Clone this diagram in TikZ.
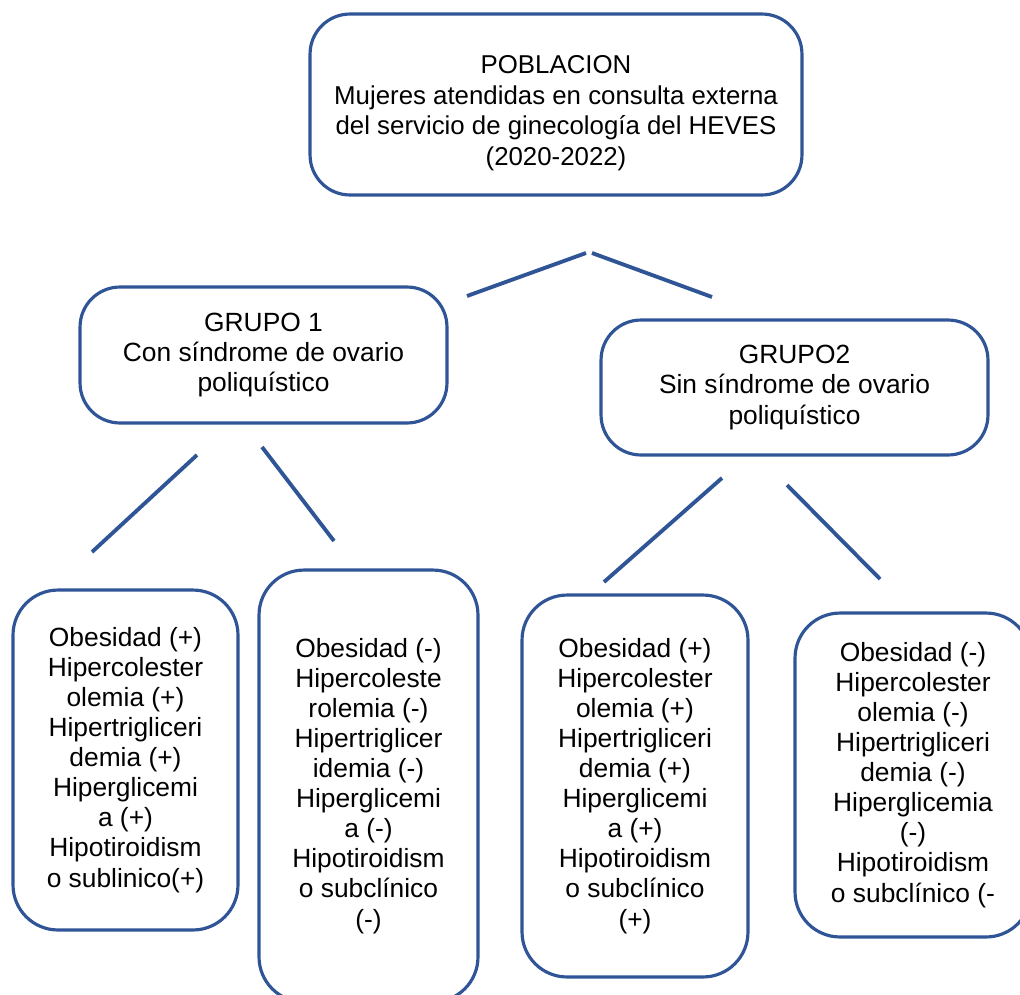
\documentclass[tikz,border=0pt]{standalone}
\usepackage{fontspec}
\setmainfont{Liberation Sans}
\usepackage{tikz}
\definecolor{borde}{RGB}{47,85,151}
\tikzset{
	caja/.style={draw=borde, line width=1.8pt, rounded corners=0.8cm, align=center, inner sep=0pt,
		font=\fontsize{15}{17.1}\selectfont},
	linea/.style={draw=borde, line width=2.2pt}
}

\begin{document}
\begin{tikzpicture}[x=0.02cm,y=-0.02cm]
			\clip (0,0) rectangle (1020,994);
			\node[caja, minimum width=9.84cm, minimum height=3.62cm] (poblacion) at (556,104.5) {};
			\node[align=center, inner sep=0pt, font=\fontsize{14.7}{17.4}\selectfont] (poblaciontxt) at (556,113) {POBLACION\\Mujeres atendidas en consulta externa\\del servicio de ginecología del HEVES\\(2020-2022)};
			\node[caja, minimum width=7.34cm, minimum height=2.72cm] (grupo1) at (263.5,355) {GRUPO 1\\Con síndrome de ovario\\poliquístico};
			\node[caja, minimum width=7.74cm, minimum height=2.70cm] (grupo2) at (794.5,387.5) {GRUPO2\\Sin síndrome de ovario\\poliquístico};
			\node[caja, rounded corners=0.9cm, minimum width=4.5cm, minimum height=6.8cm] (g1pos) at (125.5,760) {Obesidad (+)\\Hipercolester\\olemia (+)\\Hipertrigliceri\\demia (+)\\Hiperglicemi\\a (+)\\Hipotiroidism\\o sublinico(+)};
			\node[caja, rounded corners=0.9cm, minimum width=4.38cm, minimum height=8.64cm] (g1neg) at (368.5,786) {Obesidad (-)\\Hipercoleste\\rolemia (-)\\Hipertriglicer\\idemia (-)\\Hiperglicemi\\a (-)\\Hipotiroidism\\o subclínico\\(-)};
			\node[caja, rounded corners=0.9cm, minimum width=4.52cm, minimum height=7.64cm] (g2pos) at (635,786) {Obesidad (+)\\Hipercolester\\olemia (+)\\Hipertrigliceri\\demia (+)\\Hiperglicemi\\a (+)\\Hipotiroidism\\o subclínico\\(+)};
			\node[caja, rounded corners=0.9cm, minimum width=4.72cm, minimum height=6.48cm] (g2neg) at (913,775) {Obesidad (-)\\Hipercolester\\olemia (-)\\Hipertrigliceri\\demia (-)\\Hiperglicemia\\(-)\\Hipotiroidism\\o subclínico (-};
			% ramas
			\coordinate (r1) at (467,296);
			\coordinate (r2) at (586,253);
			\coordinate (r3) at (592,253);
			\coordinate (r4) at (712,297);
			\coordinate (a1) at (197,455);
			\coordinate (a2) at (92,552);
			\coordinate (a3) at (262,447);
			\coordinate (a4) at (334,541);
			\coordinate (b1) at (722,478);
			\coordinate (b2) at (604,582);
			\coordinate (b3) at (787,485);
			\coordinate (b4) at (880,579);
			\draw[linea] (r1)--(r2);
			\draw[linea] (r3)--(r4);
			\draw[linea] (a1)--(a2);
			\draw[linea] (a3)--(a4);
			\draw[linea] (b1)--(b2);
			\draw[linea] (b3)--(b4);
		\end{tikzpicture}
\end{document}
